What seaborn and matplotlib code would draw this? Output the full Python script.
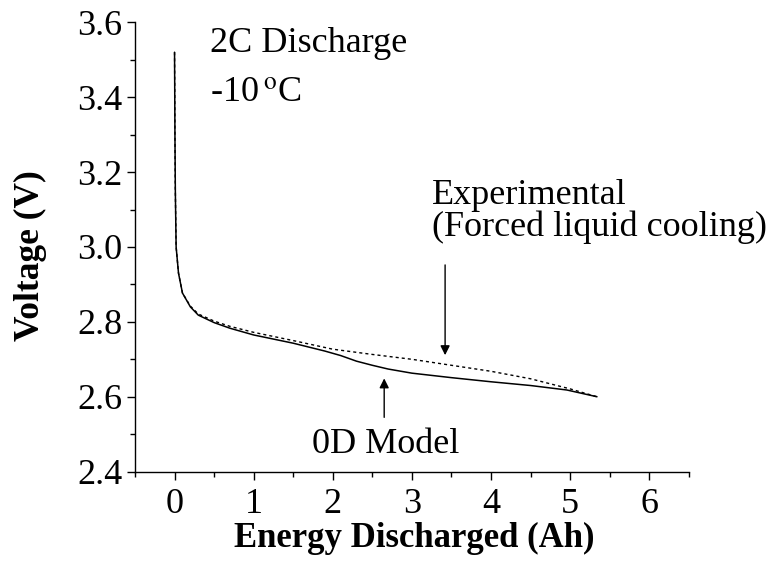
import matplotlib
matplotlib.use("Agg")
import matplotlib.pyplot as plt
import seaborn as sns
import pandas as pd
from matplotlib.ticker import MultipleLocator

# Data
model_ah = [0.0, 0.005, 0.01, 0.02, 0.05, 0.1, 0.2, 0.3, 0.5, 0.7, 1.0, 1.5, 1.9, 2.1, 2.3, 2.5, 2.7, 3.0, 3.5, 4.0, 4.5, 4.96, 5.34]
model_v = [3.52, 3.30, 3.15, 3.00, 2.93, 2.877, 2.84, 2.818, 2.798, 2.783, 2.765, 2.743, 2.722, 2.710, 2.695, 2.684, 2.674, 2.663, 2.651, 2.640, 2.630, 2.618, 2.600]

exp_ah = [0.0, 0.005, 0.01, 0.02, 0.05, 0.1, 0.2, 0.3, 0.5, 0.7, 1.0, 1.5, 2.0, 2.5, 3.0, 3.5, 4.0, 4.5, 5.0, 5.34]
exp_v = [3.52, 3.30, 3.15, 3.00, 2.93, 2.877, 2.842, 2.821, 2.802, 2.788, 2.772, 2.750, 2.727, 2.713, 2.700, 2.684, 2.668, 2.648, 2.621, 2.600]

x_ticks = [0, 1, 2, 3, 4, 5, 6]
y_ticks = [2.4, 2.6, 2.8, 3.0, 3.2, 3.4, 3.6]

sns.set_theme(style="ticks")
plt.rcParams['font.family'] = ['Liberation Serif', 'DejaVu Serif']
plt.rcParams['mathtext.fontset'] = 'stix'
plt.rcParams['text.color'] = 'black'
plt.rcParams['axes.labelcolor'] = 'black'

fig = plt.figure(figsize=(7.67, 5.71), dpi=100)
ax = fig.add_axes([0.176, 0.174, 0.722, 0.787])

df_model = pd.DataFrame({"Ah": model_ah, "V": model_v})
df_exp = pd.DataFrame({"Ah": exp_ah, "V": exp_v})

sns.lineplot(data=df_exp, x="Ah", y="V", ax=ax, color="black", lw=1.0,
             linestyle=(0, (2.2, 2.2)), sort=False, estimator=None)
sns.lineplot(data=df_model, x="Ah", y="V", ax=ax, color="black", lw=1.1,
             sort=False, estimator=None)

ax.set_xlim(-0.5, 6.5)
ax.set_ylim(2.4, 3.6)
ax.set_xticks(x_ticks)
ax.set_yticks(y_ticks)
ax.set_xticklabels([str(t) for t in x_ticks])
ax.set_yticklabels([f"{t:.1f}" for t in y_ticks])
ax.xaxis.set_minor_locator(MultipleLocator(0.5))
ax.yaxis.set_minor_locator(MultipleLocator(0.1))

for s in ["top", "right"]:
    ax.spines[s].set_visible(False)
for s in ["left", "bottom"]:
    ax.spines[s].set_linewidth(1.0)
    ax.spines[s].set_color("black")

ax.tick_params(which="major", direction="out", length=6, width=1.0, labelsize=26, colors="black")
ax.tick_params(axis="x", which="major", pad=6)
ax.tick_params(axis="y", which="major", pad=3)
ax.tick_params(which="minor", direction="out", length=3.5, width=1.0, colors="black")

ax.set_xlabel("Energy Discharged (Ah)", fontsize=25, fontweight="bold", color="black")
ax.set_ylabel("Voltage (V)", fontsize=25.5, fontweight="bold", color="black")
ax.xaxis.set_label_coords(0.505, -0.112)
ax.yaxis.set_label_coords(-0.159, 0.48)

fs = 26
ax.text(0.45, 3.521, "2C Discharge", fontsize=fs, va="baseline", ha="left", color="black")
ax.text(0.45, 3.387, r"-10$\,^{\mathrm{o}}$C", fontsize=fs, va="baseline", ha="left", color="black")
ax.text(3.25, 3.116, "Experimental", fontsize=fs, va="baseline", ha="left", color="black")
ax.text(3.25, 3.029, "(Forced liquid cooling)", fontsize=fs, va="baseline", ha="left", color="black")
ax.text(1.735, 2.449, "0D Model", fontsize=fs, va="baseline", ha="left", color="black")

ax.annotate("", xy=(3.42, 2.711), xytext=(3.42, 2.952),
            arrowprops=dict(arrowstyle="-|>", color="black", lw=1.0, mutation_scale=14, shrinkA=0, shrinkB=0))
ax.annotate("", xy=(2.65, 2.649), xytext=(2.65, 2.545),
            arrowprops=dict(arrowstyle="-|>", color="black", lw=1.0, mutation_scale=14, shrinkA=0, shrinkB=0))

fig.savefig("out.png", dpi=100)
